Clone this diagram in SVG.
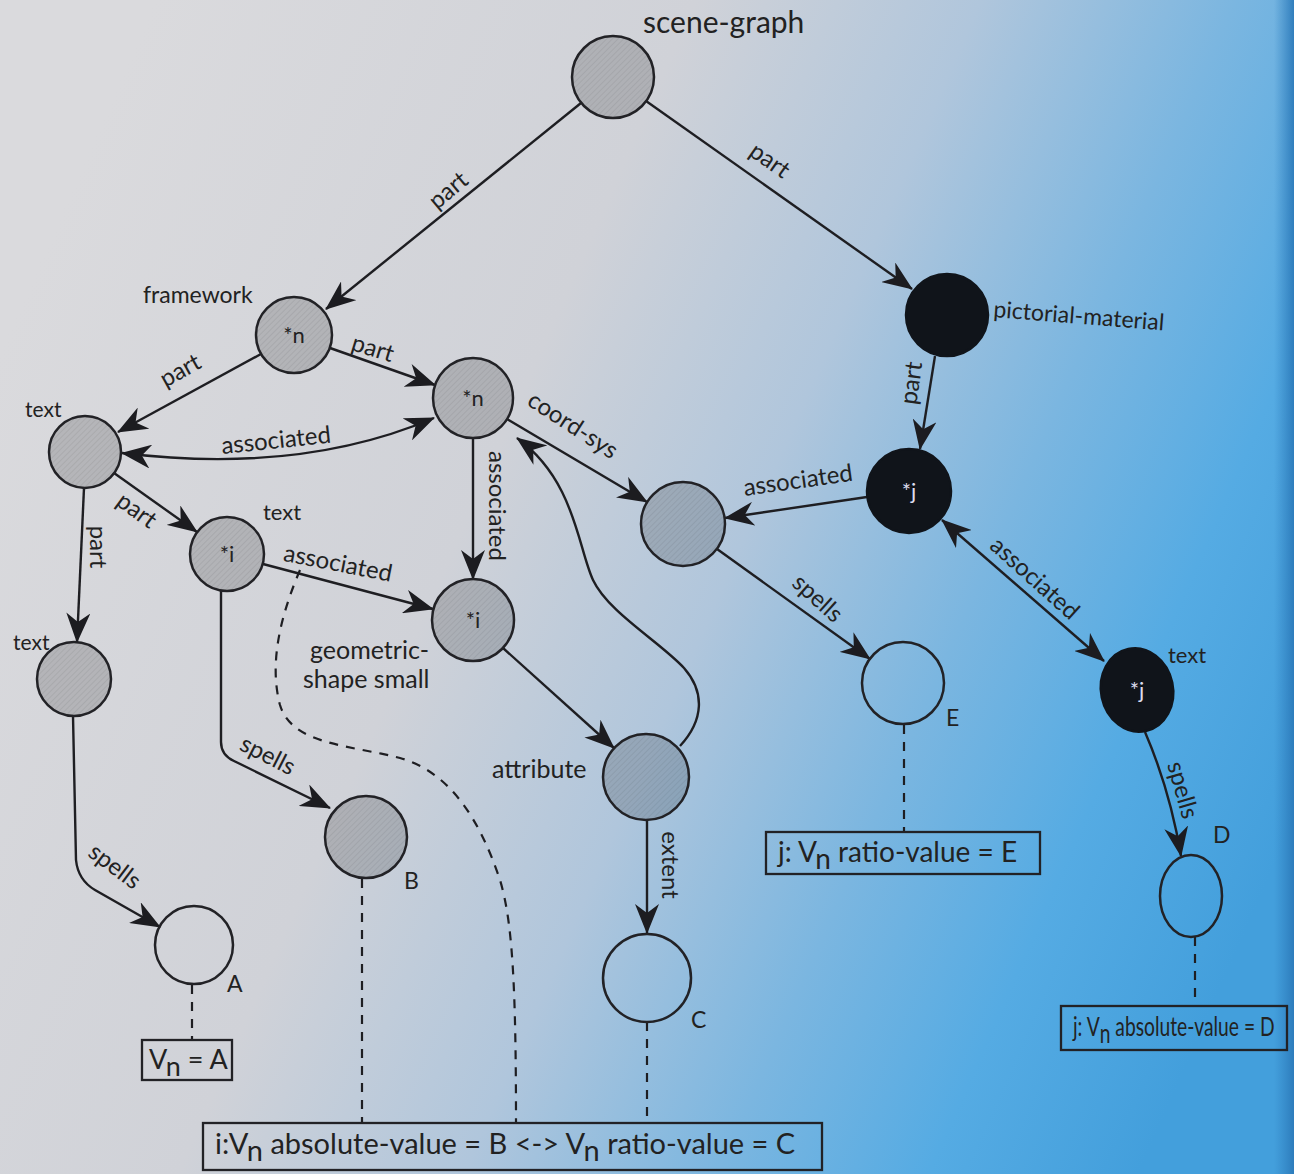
<svg xmlns="http://www.w3.org/2000/svg" width="1294" height="1174" viewBox="0 0 1294 1174">
<defs>
<linearGradient id="bg" x1="0" y1="0.3" x2="1" y2="0.7">
<stop offset="0" stop-color="#dadadd"/>
<stop offset="0.36" stop-color="#d0d2d8"/>
<stop offset="0.55" stop-color="#b0c6dc"/>
<stop offset="0.72" stop-color="#7bb6e0"/>
<stop offset="0.86" stop-color="#55abe3"/>
<stop offset="1" stop-color="#439fdc"/>
</linearGradient>
<linearGradient id="edge" x1="0" y1="0" x2="1" y2="0">
<stop offset="0" stop-color="#2f7fbf" stop-opacity="0"/>
<stop offset="1" stop-color="#2a78b8" stop-opacity="0.9"/>
</linearGradient>
<pattern id="hatch" width="4" height="4" patternUnits="userSpaceOnUse" patternTransform="rotate(45)">
<rect width="4" height="4" fill="#000" fill-opacity="0.16"/>
<line x1="0" y1="0" x2="0" y2="4" stroke="#000" stroke-opacity="0.08" stroke-width="1.5"/>
</pattern>
<marker id="ah" viewBox="0 0 30 24" refX="29" refY="12" markerWidth="30" markerHeight="24" markerUnits="userSpaceOnUse" orient="auto-start-reverse">
<path d="M0,0 L30,12 L0,24 L9,12 Z" fill="#1c1c20"/>
</marker>
<style>
.n{fill:url(#hatch);stroke:#222226;stroke-width:2.5}
.w{fill:none;stroke:#222226;stroke-width:2.5}
.k{fill:#10141a;stroke:#10141a;stroke-width:2.5}
.e{fill:none;stroke:#1e1e22;stroke-width:2.4}
.d{fill:none;stroke:#1e1e22;stroke-width:2.2;stroke-dasharray:9 8}
.lab{font-family:Lato,"Open Sans",sans-serif;font-size:24px;fill:#222;text-anchor:middle}
.t{font-family:Lato,"Open Sans",sans-serif;font-size:23px;fill:#222}
.in{font-family:Lato,"Open Sans",sans-serif;font-size:22px;fill:#222;text-anchor:middle}
.inw{font-family:Lato,"Open Sans",sans-serif;font-size:22px;fill:#dde;text-anchor:middle}
.box{fill:none;stroke:#222226;stroke-width:2.3}
.bt{font-family:Lato,"Open Sans",sans-serif;font-size:28px;fill:#222}
</style>
</defs>
<rect width="1294" height="1174" fill="url(#bg)"/>
<rect x="1274" y="0" width="20" height="1174" fill="url(#edge)"/>

<g id="connectors">
<path class="e" marker-end="url(#ah)" d="M581,103 L326,309"/>
<path class="e" marker-end="url(#ah)" d="M646,101 L912,289"/>
<path class="e" marker-end="url(#ah)" d="M261,354 L118,432"/>
<path class="e" marker-end="url(#ah)" d="M330,348 L435,385"/>
<path class="e" marker-start="url(#ah)" marker-end="url(#ah)" d="M122,453 Q300,475 434,418"/>
<path class="e" marker-end="url(#ah)" d="M507,419 L647,502"/>
<path class="e" marker-end="url(#ah)" d="M473,438 L473,579"/>
<path class="e" marker-end="url(#ah)" d="M114,473 L197,532"/>
<path class="e" marker-end="url(#ah)" d="M84,488 L77,642"/>
<path class="e" marker-end="url(#ah)" d="M263,564 L433,609"/>
<path class="e" marker-end="url(#ah)" d="M221,591 L221,742 Q221,755 234,761 L330,808"/>
<path class="e" marker-end="url(#ah)" d="M73,716 L76,860 Q78,880 95,890 L160,927"/>
<path class="e" marker-end="url(#ah)" d="M503,648 L614,748"/>
<path class="e" marker-end="url(#ah)" d="M680,746 C704,720 705,692 684,668 C660,642 608,612 593,580 C578,548 575,480 517,438"/>
<path class="e" marker-end="url(#ah)" d="M647,820 L647,933"/>
<path class="e" marker-end="url(#ah)" d="M867,497 L725,518"/>
<path class="e" marker-end="url(#ah)" d="M935,356 L920,449"/>
<path class="e" marker-end="url(#ah)" d="M717,549 L870,659"/>
<path class="e" marker-start="url(#ah)" marker-end="url(#ah)" d="M942,520 L1104,661"/>
<path class="e" marker-end="url(#ah)" d="M1145,732 Q1170,790 1181,856"/>

<path class="d" d="M192,985 L192,1040"/>
<path class="d" d="M362,879 L362,1123"/>
<path class="d" d="M647,1022 L647,1123"/>
<path class="d" d="M904,725 L904,832"/>
<path class="d" d="M1195,937 L1195,1006"/>
<path class="d" d="M300,570 C283,610 268,660 280,705 C292,745 350,745 400,758 C450,772 480,820 500,880 C512,920 516,980 516,1123"/>

<text class="lab" transform="translate(448,190) rotate(-40)" dy="0.35em">part</text>
<text class="lab" transform="translate(770,160) rotate(35)" dy="0.35em">part</text>
<text class="lab" transform="translate(180,370) rotate(-29)" dy="0.35em">part</text>
<text class="lab" transform="translate(373,348) rotate(17)" dy="0.35em">part</text>
<text class="lab" transform="translate(276,440) rotate(-6)" dy="0.35em">associated</text>
<text class="lab" transform="translate(573,425) rotate(33)" dy="0.35em">coord-sys</text>
<text class="lab" transform="translate(497,506) rotate(90)" dy="0.35em">associated</text>
<text class="lab" transform="translate(137,510) rotate(36)" dy="0.35em">part</text>
<text class="lab" transform="translate(98,547) rotate(90)" dy="0.35em">part</text>
<text class="lab" transform="translate(338,563) rotate(11)" dy="0.35em">associated</text>
<text class="lab" transform="translate(268,755) rotate(27)" dy="0.35em">spells</text>
<text class="lab" transform="translate(115,866) rotate(37)" dy="0.35em">spells</text>
<text class="lab" transform="translate(670,865) rotate(90)" dy="0.35em">extent</text>
<text class="lab" transform="translate(798,480) rotate(-8)" dy="0.35em">associated</text>
<text class="lab" transform="translate(911,383) rotate(-82)" dy="0.35em">part</text>
<text class="lab" transform="translate(818,598) rotate(42)" dy="0.35em">spells</text>
<text class="lab" transform="translate(1035,578) rotate(42)" dy="0.35em">associated</text>
<text class="lab" transform="translate(1183,790) rotate(74)" dy="0.35em">spells</text>
</g>

<g id="scene-graph"><circle class="n" cx="613" cy="77" r="41"/><text class="t" x="643" y="33" style="font-size:30px">scene-graph</text></g>
<g id="framework"><circle class="n" cx="294" cy="335" r="38"/><text class="in" x="294" y="343">*n</text><text class="t" x="143" y="303">framework</text></g>
<g id="n-center"><circle class="n" cx="473" cy="398" r="40"/><text class="in" x="473" y="406">*n</text></g>
<g id="pictorial-material"><circle class="k" cx="947" cy="315" r="41"/><text class="t" x="993" y="317" transform="rotate(4.5 993 317)">pictorial-material</text></g>
<g id="text-left"><circle class="n" cx="85" cy="452" r="36"/><text class="t" x="25" y="417" style="font-size:21px">text</text></g>
<g id="i-left"><circle class="n" cx="227" cy="554" r="37"/><text class="in" x="227" y="562">*i</text><text class="t" x="263" y="520" style="font-size:22px">text</text></g>
<g id="i-center"><circle class="n" cx="473" cy="620" r="41"/><text class="in" x="473" y="628">*i</text><text class="t" x="310" y="659" style="font-size:25px">geometric-</text><text class="t" x="303" y="688" style="font-size:25px">shape small</text></g>
<g id="coord-node"><circle class="n" cx="683" cy="524" r="42"/></g>
<g id="j-node"><circle class="k" cx="909" cy="491" r="42"/><text class="inw" x="909" y="499">*j</text></g>
<g id="text-lower"><circle class="n" cx="74" cy="679" r="37"/><text class="t" x="13" y="650" style="font-size:21px">text</text></g>
<g id="attribute"><circle class="n" cx="646" cy="777" r="43"/><text class="t" x="492" y="778" style="font-size:25px">attribute</text></g>
<g id="B"><circle class="n" cx="366" cy="837" r="41"/><text class="t" x="404" y="889">B</text></g>
<g id="E"><circle class="w" cx="903" cy="683" r="41"/><text class="t" x="946" y="726">E</text></g>
<g id="j-text"><ellipse class="k" cx="1137" cy="690" rx="36" ry="42" transform="rotate(-12 1137 690)"/><text class="inw" x="1137" y="698">*j</text><text class="t" x="1168" y="663" style="font-size:22px">text</text></g>
<g id="A"><circle class="w" cx="194" cy="945" r="39"/><text class="t" x="227" y="992">A</text></g>
<g id="C"><circle class="w" cx="647" cy="978" r="44"/><text class="t" x="691" y="1028">C</text></g>
<g id="D"><ellipse class="w" cx="1191" cy="896" rx="31" ry="41"/><text class="t" x="1213" y="843">D</text></g>

<g id="box-A"><rect class="box" x="142" y="1040" width="90" height="40"/><text class="bt" x="149" y="1069" style="font-size:27px">V<tspan dy="7">n</tspan><tspan dy="-7"> = A</tspan></text></g>
<g id="box-BC"><rect class="box" x="203" y="1123" width="619" height="47"/><text class="bt" x="215" y="1154" style="font-size:29px">i:V<tspan dy="7">n</tspan><tspan dy="-7"> absolute-value = B &lt;-&gt; V</tspan><tspan dy="7">n</tspan><tspan dy="-7"> ratio-value = C</tspan></text></g>
<g id="box-E"><rect class="box" x="766" y="832" width="274" height="42"/><text class="bt" x="778" y="862">j: V<tspan dy="7">n</tspan><tspan dy="-7"> ratio-value = E</tspan></text></g>
<g id="box-D"><rect class="box" x="1061" y="1006" width="226" height="44"/><text class="bt" transform="translate(1073,1036) scale(0.74,1)" x="0" y="0" style="font-size:26px">j: V<tspan dy="7">n</tspan><tspan dy="-7"> absolute-value = D</tspan></text></g>
</svg>
